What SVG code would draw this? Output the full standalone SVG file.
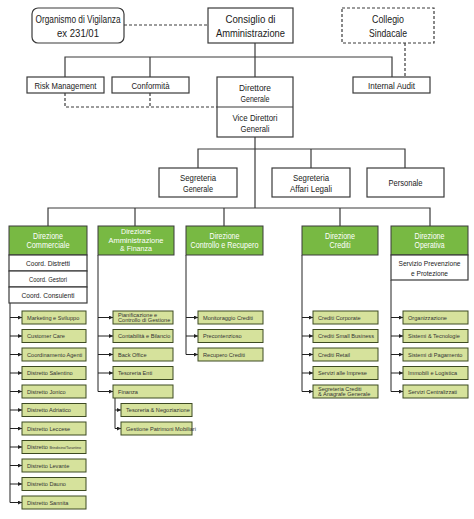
<svg xmlns="http://www.w3.org/2000/svg" width="474" height="519" viewBox="0 0 474 519">
<defs>
<style>
.bx{fill:#fff;stroke:#3a3a3a;stroke-width:1.2}
.dbx{fill:#fff;stroke:#3a3a3a;stroke-width:1.2;stroke-dasharray:3 2}
.gr{fill:#78b943;stroke:#3a3a3a;stroke-width:1}
.sb{fill:#d6e29c;stroke:#3d4a22;stroke-width:1}
.ln{fill:none;stroke:#3a3a3a;stroke-width:1.2}
.dl{fill:none;stroke:#3a3a3a;stroke-width:1.2;stroke-dasharray:3 2}
.al{fill:none;stroke:#222;stroke-width:1}
text{font-family:"Liberation Sans",Arial,sans-serif;fill:#1a1a1a;text-anchor:middle}
.t1{font-size:11.5px}
.t2{font-size:9.5px}
.t3{font-size:9px}
.tg{font-size:9px;fill:#fff}
.tg2{font-size:7.8px;fill:#fff}
.tw{font-size:8px}
.ts{font-size:5.6px;text-anchor:start;fill:#333}
.tt{font-size:3.6px}
</style>
<marker id="ah" markerUnits="userSpaceOnUse" markerWidth="4" markerHeight="4" refX="4" refY="2" orient="auto">
<path d="M0,0 L4,2 L0,4 z" fill="#222"/>
</marker>
</defs>
<rect width="474" height="519" fill="#fff"/>

<g id="connectors">
<path class="dl" d="M124,25 H208"/>
<path class="ln" d="M255,43 V77"/>
<path class="ln" d="M65,77 V57 H392 V77 M150,57 V77"/>
<path class="dl" d="M405,43 V77"/>
<path class="dl" d="M65,93 V107 H217 M150,93 V107"/>
<path class="ln" d="M255,137 V208"/>
<path class="ln" d="M198,168 V149 H405 V168 M311,149 V168"/>
<path class="ln" d="M48,226 V208 H430 V226 M135,208 V226 M224,208 V226 M340,208 V226"/>
<path class="al" d="M10,303 V502.5 M98,255 V391.5 M115,398 V428.5 M186,255 V354.5 M302,255 V391.5 M391,280 V391.5"/>
<g marker-end="url(#ah)" class="al">
<path d="M10,317.5 H22"/><path d="M10,336 H22"/><path d="M10,354.5 H22"/><path d="M10,373 H22"/><path d="M10,391.5 H22"/><path d="M10,410 H22"/><path d="M10,428.5 H22"/><path d="M10,447 H22"/><path d="M10,465.5 H22"/><path d="M10,484 H22"/><path d="M10,502.5 H22"/>
<path d="M98,317.5 H113"/><path d="M98,336 H113"/><path d="M98,354.5 H113"/><path d="M98,373 H113"/><path d="M98,391.5 H113"/>
<path d="M115,410 H121"/><path d="M115,428.5 H121"/>
<path d="M186,317.5 H198"/><path d="M186,336 H198"/><path d="M186,354.5 H198"/>
<path d="M302,317.5 H313"/><path d="M302,336 H313"/><path d="M302,354.5 H313"/><path d="M302,373 H313"/><path d="M302,391.5 H313"/>
<path d="M391,317.5 H403"/><path d="M391,336 H403"/><path d="M391,354.5 H403"/><path d="M391,373 H403"/><path d="M391,391.5 H403"/>
</g>
</g>

<g id="organismo"><rect class="bx" x="32" y="8" width="92" height="35" rx="6"/><text class="t1" x="78" y="23" textLength="85" lengthAdjust="spacingAndGlyphs">Organismo di Vigilanza</text><text class="t1" x="78" y="37" textLength="42" lengthAdjust="spacingAndGlyphs">ex 231/01</text></g>
<g id="consiglio"><rect class="bx" x="208" y="8" width="85" height="35"/><text class="t1" x="250.5" y="23" textLength="50" lengthAdjust="spacingAndGlyphs">Consiglio di</text><text class="t1" x="250.5" y="37" textLength="69" lengthAdjust="spacingAndGlyphs">Amministrazione</text></g>
<g id="collegio"><rect class="dbx" x="342" y="8" width="92" height="35"/><text class="t1" x="388" y="23" textLength="32" lengthAdjust="spacingAndGlyphs">Collegio</text><text class="t1" x="388" y="37" textLength="38" lengthAdjust="spacingAndGlyphs">Sindacale</text></g>
<g id="risk"><rect class="bx" x="27" y="77" width="77" height="16"/><text class="t3" x="65.5" y="88.5" textLength="62" lengthAdjust="spacingAndGlyphs">Risk Management</text></g>
<g id="conformita"><rect class="bx" x="112" y="77" width="77" height="16"/><text class="t3" x="150.5" y="88.5" textLength="38" lengthAdjust="spacingAndGlyphs">Conformità</text></g>
<g id="audit"><rect class="bx" x="353" y="77" width="77" height="16"/><text class="t3" x="391.5" y="88.5" textLength="47" lengthAdjust="spacingAndGlyphs">Internal Audit</text></g>
<g id="direttore"><rect class="bx" x="217" y="77" width="76" height="60"/><path class="ln" d="M217,107 H293"/><text class="t3" x="255" y="90.5" textLength="32" lengthAdjust="spacingAndGlyphs">Direttore</text><text class="t3" x="255" y="101.5" textLength="29" lengthAdjust="spacingAndGlyphs">Generale</text><text class="t3" x="255" y="121" textLength="45" lengthAdjust="spacingAndGlyphs">Vice Direttori</text><text class="t3" x="255" y="132" textLength="29" lengthAdjust="spacingAndGlyphs">Generali</text></g>
<g id="seg-generale"><rect class="bx" x="159" y="168" width="78" height="29"/><text class="t2" x="198" y="181" textLength="36" lengthAdjust="spacingAndGlyphs">Segreteria</text><text class="t2" x="198" y="191.5" textLength="30" lengthAdjust="spacingAndGlyphs">Generale</text></g>
<g id="seg-legali"><rect class="bx" x="272" y="168" width="78" height="29"/><text class="t2" x="311" y="181" textLength="36" lengthAdjust="spacingAndGlyphs">Segreteria</text><text class="t2" x="311" y="191.5" textLength="42" lengthAdjust="spacingAndGlyphs">Affari Legali</text></g>
<g id="personale"><rect class="bx" x="367" y="168" width="77" height="29"/><text class="t2" x="405.5" y="186" textLength="34" lengthAdjust="spacingAndGlyphs">Personale</text></g>

<g id="dir-commerciale"><rect class="gr" x="9" y="226" width="78" height="29"/><text class="tg" x="48" y="239" textLength="30" lengthAdjust="spacingAndGlyphs">Direzione</text><text class="tg" x="48" y="248" textLength="43" lengthAdjust="spacingAndGlyphs">Commerciale</text>
<rect class="bx" x="9" y="255" width="78" height="16"/><text class="tw" x="48" y="266" textLength="44" lengthAdjust="spacingAndGlyphs">Coord. Distretti</text>
<rect class="bx" x="9" y="271" width="78" height="16"/><text class="tw" x="48" y="282" textLength="38" lengthAdjust="spacingAndGlyphs">Coord. Gestori</text>
<rect class="bx" x="9" y="287" width="78" height="16"/><text class="tw" x="48" y="298" textLength="53" lengthAdjust="spacingAndGlyphs">Coord. Consulenti</text></g>
<g id="dir-amministrazione"><rect class="gr" x="98" y="226" width="76" height="29"/><text class="tg2" x="136" y="234" textLength="30" lengthAdjust="spacingAndGlyphs">Direzione</text><text class="tg2" x="136" y="242.5" textLength="55" lengthAdjust="spacingAndGlyphs">Amministrazione</text><text class="tg2" x="136" y="251" textLength="32" lengthAdjust="spacingAndGlyphs">&amp; Finanza</text></g>
<g id="dir-controllo"><rect class="gr" x="186" y="226" width="77" height="29"/><text class="tg" x="224.5" y="239" textLength="30" lengthAdjust="spacingAndGlyphs">Direzione</text><text class="tg" x="224.5" y="248" textLength="68" lengthAdjust="spacingAndGlyphs">Controllo e Recupero</text></g>
<g id="dir-crediti"><rect class="gr" x="302" y="226" width="76" height="29"/><text class="tg" x="340" y="239" textLength="30" lengthAdjust="spacingAndGlyphs">Direzione</text><text class="tg" x="340" y="248" textLength="21" lengthAdjust="spacingAndGlyphs">Crediti</text></g>
<g id="dir-operativa"><rect class="gr" x="391" y="226" width="77" height="29"/><text class="tg" x="429.5" y="239" textLength="30" lengthAdjust="spacingAndGlyphs">Direzione</text><text class="tg" x="429.5" y="248" textLength="30" lengthAdjust="spacingAndGlyphs">Operativa</text>
<rect class="bx" x="391" y="255" width="77" height="25"/><text class="tw" x="429.5" y="265.5" textLength="62" lengthAdjust="spacingAndGlyphs">Servizio Prevenzione</text><text class="tw" x="429.5" y="275.5" textLength="37" lengthAdjust="spacingAndGlyphs">e Protezione</text></g>

<g id="commerciale-units">
<rect class="sb" x="22" y="311" width="64" height="13"/><text class="ts" x="27" y="319.5">Marketing e Sviluppo</text>
<rect class="sb" x="22" y="329.5" width="64" height="13"/><text class="ts" x="27" y="338">Customer Care</text>
<rect class="sb" x="22" y="348" width="64" height="13"/><text class="ts" x="27" y="356.5">Coordinamento Agenti</text>
<rect class="sb" x="22" y="366.5" width="64" height="13"/><text class="ts" x="27" y="375">Distretto Salentino</text>
<rect class="sb" x="22" y="385" width="64" height="13"/><text class="ts" x="27" y="393.5">Distretto Jonico</text>
<rect class="sb" x="22" y="403.5" width="64" height="13"/><text class="ts" x="27" y="412">Distretto Adriatico</text>
<rect class="sb" x="22" y="422" width="64" height="13"/><text class="ts" x="27" y="430.5">Distretto Leccese</text>
<rect class="sb" x="22" y="440.5" width="64" height="13"/><text class="ts" x="27" y="449">Distretto <tspan class="tt">Brindisino/Tarantino</tspan></text>
<rect class="sb" x="22" y="459" width="64" height="13"/><text class="ts" x="27" y="467.5">Distretto Levante</text>
<rect class="sb" x="22" y="477.5" width="64" height="13"/><text class="ts" x="27" y="486">Distretto Dauno</text>
<rect class="sb" x="22" y="496" width="64" height="13"/><text class="ts" x="27" y="504.5">Distretto Sannita</text>
</g>
<g id="amministrazione-units">
<rect class="sb" x="113" y="311" width="60" height="13"/><text class="ts" x="118" y="316.5">Pianificazione e</text><text class="ts" x="118" y="322">Controllo di Gestione</text>
<rect class="sb" x="113" y="329.5" width="60" height="13"/><text class="ts" x="118" y="338">Contabilità e Bilancio</text>
<rect class="sb" x="113" y="348" width="60" height="13"/><text class="ts" x="118" y="356.5">Back Office</text>
<rect class="sb" x="113" y="366.5" width="60" height="13"/><text class="ts" x="118" y="375">Tesoreria Enti</text>
<rect class="sb" x="113" y="385" width="60" height="13"/><text class="ts" x="118" y="393.5">Finanza</text>
<rect class="sb" x="121" y="403.5" width="71" height="13"/><text class="ts" x="126" y="412">Tesoreria &amp; Negoziazione</text>
<rect class="sb" x="121" y="422" width="71" height="13"/><text class="ts" x="126" y="430.5">Gestione Patrimoni Mobiliari</text>
</g>
<g id="controllo-units">
<rect class="sb" x="198" y="311" width="65" height="13"/><text class="ts" x="203" y="319.5">Monitoraggio Crediti</text>
<rect class="sb" x="198" y="329.5" width="65" height="13"/><text class="ts" x="203" y="338">Precontenzioso</text>
<rect class="sb" x="198" y="348" width="65" height="13"/><text class="ts" x="203" y="356.5">Recupero Crediti</text>
</g>
<g id="crediti-units">
<rect class="sb" x="313" y="311" width="65" height="13"/><text class="ts" x="318" y="319.5">Crediti Corporate</text>
<rect class="sb" x="313" y="329.5" width="65" height="13"/><text class="ts" x="318" y="338">Crediti Small Business</text>
<rect class="sb" x="313" y="348" width="65" height="13"/><text class="ts" x="318" y="356.5">Crediti Retail</text>
<rect class="sb" x="313" y="366.5" width="65" height="13"/><text class="ts" x="318" y="375">Servizi alle Imprese</text>
<rect class="sb" x="313" y="385" width="65" height="13"/><text class="ts" x="318" y="390.5">Segreteria Crediti</text><text class="ts" x="318" y="396">&amp; Anagrafe Generale</text>
</g>
<g id="operativa-units">
<rect class="sb" x="403" y="311" width="65" height="13"/><text class="ts" x="408" y="319.5">Organizzazione</text>
<rect class="sb" x="403" y="329.5" width="65" height="13"/><text class="ts" x="408" y="338">Sistemi &amp; Tecnologie</text>
<rect class="sb" x="403" y="348" width="65" height="13"/><text class="ts" x="408" y="356.5">Sistemi di Pagamento</text>
<rect class="sb" x="403" y="366.5" width="65" height="13"/><text class="ts" x="408" y="375">Immobili e Logistica</text>
<rect class="sb" x="403" y="385" width="65" height="13"/><text class="ts" x="408" y="393.5">Servizi Centralizzati</text>
</g>
</svg>
